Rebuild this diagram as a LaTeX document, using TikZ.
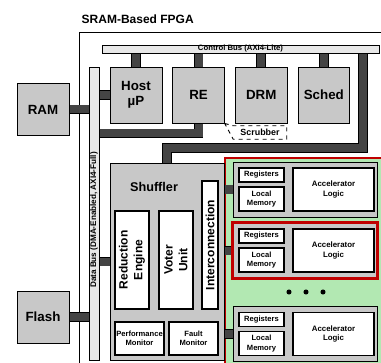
\documentclass[tikz,border=0pt]{standalone}
\usepackage{fontspec}
\setmainfont{Liberation Sans}
\usepackage{tikz}
\usetikzlibrary{positioning, fit, backgrounds}
\tikzset{x=0.75pt, y=-0.75pt}
\pgfdeclarelayer{links}
\pgfsetlayers{background,links,main}

\definecolor{boxgray}{RGB}{200,200,200}
\definecolor{busgray}{RGB}{232,232,232}
\definecolor{linkgray}{RGB}{68,68,68}
\definecolor{panelgreen}{RGB}{178,232,178}
\definecolor{fpgared}{RGB}{192,0,0}

\begin{document}
\begin{tikzpicture}
% Style
[
    box/.style={draw, line width=0.7pt, fill=boxgray, align=center, inner sep=0pt,
        font=\fontsize{10}{11.5}\selectfont\bfseries},
    bus/.style={draw, line width=0.7pt, fill=busgray, inner sep=0pt},
    part/.style={draw, line width=0.8pt, fill=white, align=center, inner sep=0pt},
    big text/.style={font=\fontsize{9}{11}\selectfont\bfseries},
    small text/.style={font=\fontsize{5.7}{6.8}\selectfont\bfseries},
    link/.style={line width=0.6pt, double=linkgray, double distance=6pt, line join=miter},
    hilite/.style={draw=fpgared, line width=1.8pt, inner sep=0pt},
    node distance=7.5pt
]

%================================== Frame ==================================
\useasboundingbox (0,0) rectangle (381,363);
\clip (0,0) rectangle (381,363);

\node[anchor=west, font=\fontsize{9}{10}\selectfont\bfseries] (title) at (77,19) {SRAM-Based FPGA};

\begin{scope}[on background layer]
    % Draw: FPGA outline
    \draw[line width=0.6pt] (79,370) |- (390,32);
    % Draw: Accelerator panel
    \filldraw[fill=panelgreen, draw=fpgared, line width=1.8pt] (225,158) rectangle (395,375);
\end{scope}

%=================================== Start ===================================
{
    % Define: Buses
    \node[bus, minimum width=207.75pt, minimum height=6pt,
        font=\fontsize{5.8}{6}\selectfont\bfseries] (ctrl) at (240.5,49) {Control Bus (AXI4-Lite)};
    \node[bus, minimum width=7.5pt, minimum height=219.75pt] (databus) at (94,213.5) {};
    \node[rotate=90, inner sep=0pt, font=\fontsize{6.1}{6.5}\selectfont\bfseries] (databus label) at (94,220)
        {Data Bus (DMA-Enabled, AXI4-Full)};

    % Draw: Memories
    \node[box, minimum width=39pt, minimum height=39.5pt] (ram) at (43,109.5) {RAM};
    \node[box, minimum width=39pt, minimum height=39pt] (flash) at (43,317) {Flash};

    % Draw: Control cores
    \node[box, minimum width=39pt, minimum height=42pt] (host) at (136,95) {Host\\µP};
    \node[box, minimum width=38.5pt, minimum height=42pt, right=of host] (re) {RE};
    \node[box, minimum width=39pt, minimum height=42pt, right=of re] (drm) {DRM};
    \node[box, minimum width=38.5pt, minimum height=42pt, right=of drm] (sched) {Sched};

    \node[minimum width=39.75pt, minimum height=9.75pt, inner sep=0pt,
        font=\fontsize{6.7}{7}\selectfont\bfseries] (scrub) at (260,132.5) {Scrubber};
    \draw[dashed, line width=0.7pt] (re.south east) -- (scrub.north west) -- (scrub.north east)
        -- (scrub.south east) -- (scrub.south west) -- cycle;

    % Draw: Shuffler
    \node[box, minimum width=85.5pt, minimum height=147.75pt] (shuffler) at (167,261.5) {};
    \node[big text, font=\fontsize{9.5}{11}\selectfont\bfseries] (shuffler label) at (154,187) {Shuffler};
    \node[part, big text, rotate=90, minimum width=73.5pt, minimum height=25.5pt] (reduce) at (132,260) {Reduction\\Engine};
    \node[part, big text, rotate=90, minimum width=73.5pt, minimum height=25.5pt] (voter) at (176,260) {Voter\\Unit};
    \node[part, big text, rotate=90, minimum width=96pt, minimum height=12pt] (inter) at (210,245) {Interconnection};
    \node[part, small text, minimum width=36.75pt, minimum height=24.75pt] (perf) at (139.5,338.5) {Performance\\Monitor};
    \node[part, small text, minimum width=36.75pt, minimum height=24.75pt] (fault) at (193.5,338.5) {Fault\\Monitor};

    % Draw: Accelerator tiles
    \foreach \i/\y in {1/189.5, 2/250.5, 3/334} {
        \node[box, minimum width=108pt, minimum height=41.25pt] (tile\i) at (305,\y) {};
        \node[part, small text, minimum width=33.75pt, minimum height=10.5pt] (reg\i) at ({261.5},{\y-14.5}) {Registers};
        \node[part, small text, minimum width=33.75pt, minimum height=18pt] (mem\i) at ({261.5},{\y+9.5}) {Local\\Memory};
        \node[part, small text, font=\fontsize{5.9}{7}\selectfont\bfseries, minimum width=60.75pt, minimum height=32.25pt] (logic\i) at (333.5,\y) {Accelerator\\Logic};
        \begin{pgfonlayer}{links}
            \draw[link] (tile\i -| shuffler) -- (tile\i);
        \end{pgfonlayer}
    }
    \node[hilite, fit=(tile2)] (tile2 mark) {};
    \foreach \x in {289,306,323} {
        \fill (\x,292) circle [radius=1.9pt];
    }

    % Draw: Links
    \coordinate (rebend) at (197.5,133.5);
    \coordinate (ctrltap) at (363,148);
    \begin{pgfonlayer}{links}
        \foreach \n in {host, re, drm, sched} {
            \draw[link] (ctrl -| \n) -- (\n);
        }
        \draw[link] (ctrl -| ctrltap) -- (ctrltap) -| (shuffler);
        \draw[link] (ram) -- (ram -| databus);
        \draw[link] (flash) -- (flash -| databus);
        \draw[link] (host -| databus) -- (host);
        \draw[link] (shuffler -| databus) -- (shuffler);
        \draw[link] (re) |- (databus |- rebend);
    \end{pgfonlayer}
}
%==================================== END ====================================
\end{tikzpicture}
\end{document}
